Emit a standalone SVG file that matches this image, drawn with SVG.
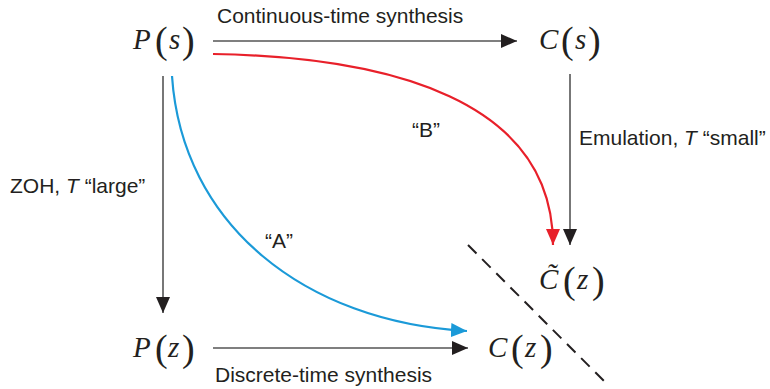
<svg xmlns="http://www.w3.org/2000/svg" width="770" height="389" viewBox="0 0 770 389">
<style>
.lbl{font-family:"Liberation Sans",Arial,sans-serif;font-size:21px;fill:#231f20}
.mt{font-family:"Liberation Serif","Times New Roman",serif;font-style:italic;font-size:29px;fill:#231f20}
.p{font-style:normal;font-size:38px}
.ln{fill:none;stroke:#555;stroke-width:1.6}
</style>
<defs>
<marker id="ak" markerUnits="userSpaceOnUse" markerWidth="18" markerHeight="16" refX="16" refY="7" orient="auto"><path d="M0,0 L16,7 L0,14 Z" fill="#231f20"/></marker>
<marker id="ar" markerUnits="userSpaceOnUse" markerWidth="18" markerHeight="16" refX="16" refY="7" orient="auto"><path d="M0,0 L16,7 L0,14 Z" fill="#e8202a"/></marker>
<marker id="ab" markerUnits="userSpaceOnUse" markerWidth="18" markerHeight="16" refX="16" refY="7" orient="auto"><path d="M0,0 L16,7 L0,14 Z" fill="#1b9ad8"/></marker>
</defs>
<rect width="770" height="389" fill="#fff"/>
<g id="Ps"><text class="mt" x="133" y="49">P<tspan class="p" x="155" y="53">(</tspan><tspan x="169" y="49">s</tspan><tspan class="p" x="182" y="53">)</tspan></text></g>
<g id="Cs"><text class="mt" x="539" y="49">C<tspan class="p" x="561" y="53">(</tspan><tspan x="575" y="49">s</tspan><tspan class="p" x="588" y="53">)</tspan></text></g>
<g id="Pz"><text class="mt" x="133" y="357">P<tspan class="p" x="155" y="361">(</tspan><tspan x="168" y="357">z</tspan><tspan class="p" x="182" y="361">)</tspan></text></g>
<g id="Cz"><text class="mt" x="488" y="357">C<tspan class="p" x="511" y="361">(</tspan><tspan x="525" y="357">z</tspan><tspan class="p" x="540" y="361">)</tspan></text></g>
<g id="Ctz"><text class="mt" x="539" y="289">C&#x303;<tspan class="p" x="563" y="293">(</tspan><tspan x="577" y="289">z</tspan><tspan class="p" x="592" y="293">)</tspan></text></g>
<g id="connectors">
<line class="ln" x1="213" y1="41" x2="517" y2="41" marker-end="url(#ak)"/>
<line class="ln" x1="570" y1="74" x2="570" y2="245" marker-end="url(#ak)"/>
<line class="ln" x1="163" y1="76" x2="163" y2="313" marker-end="url(#ak)"/>
<line class="ln" x1="213" y1="348" x2="468" y2="348" marker-end="url(#ak)"/>
<path d="M213,54 C390,57 553,100 553,245" fill="none" stroke="#e8202a" stroke-width="2.2" marker-end="url(#ar)"/>
<path d="M172,76 C182,225 305,322 467,331" fill="none" stroke="#1b9ad8" stroke-width="2.2" marker-end="url(#ab)"/>
<line x1="468" y1="245" x2="605" y2="382" stroke="#231f20" stroke-width="2" stroke-dasharray="12,8"/>
</g>
<g id="labels">
<text class="lbl" x="217" y="23">Continuous-time synthesis</text>
<text class="lbl" x="579" y="145">Emulation, <tspan font-style="italic">T</tspan> “small”</text>
<text class="lbl" x="10" y="193">ZOH, <tspan font-style="italic">T</tspan> “large”</text>
<text class="lbl" x="215" y="382">Discrete-time synthesis</text>
<text class="lbl" x="412" y="137">“B”</text>
<text class="lbl" x="265" y="248">“A”</text>
</g>
</svg>
